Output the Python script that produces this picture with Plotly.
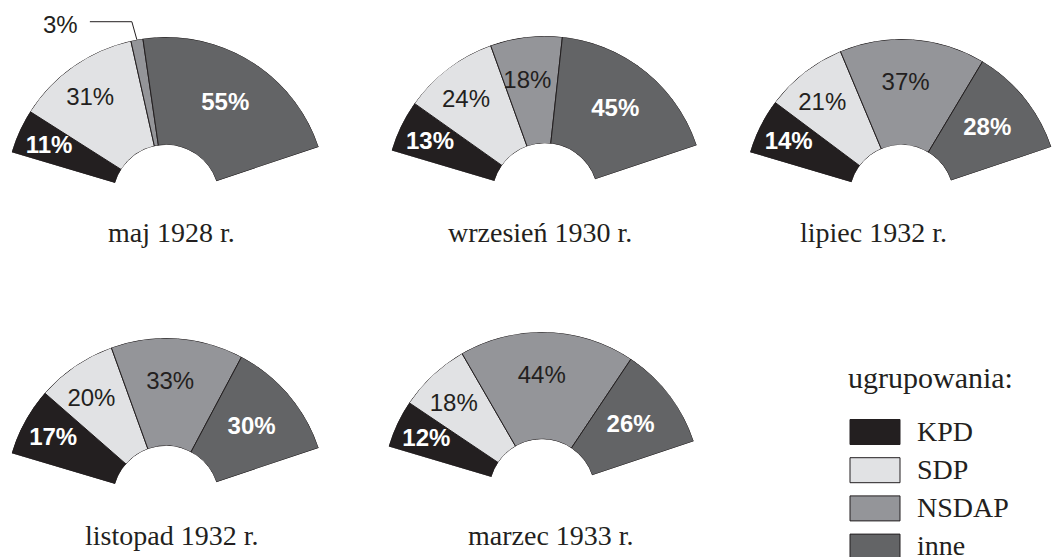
import numpy as np
import plotly.graph_objects as go

# ---------------- data ----------------
parties = ["KPD", "SDP", "NSDAP", "inne"]
elections = ["maj 1928 r.", "wrzesień 1930 r.", "lipiec 1932 r.",
             "listopad 1932 r.", "marzec 1933 r."]
kpd = [11, 13, 14, 17, 12]
sdp = [31, 24, 21, 20, 18]
nsdap = [3, 18, 37, 33, 44]
inne = [55, 45, 28, 30, 26]
legend_title = "ugrupowania:"

# ---------------- styles / layout ----------------
party_colors = ["#231f20", "#e1e2e4", "#949599", "#636466"]
label_colors = ["#ffffff", "#231f20", "#231f20", "#ffffff"]
label_bold = [True, False, False, True]
label_radius = [0.69, 0.66, 0.58, 0.54]   # radial position of % labels (axis units)
label_dtheta = [-1.0, -2.5, -2.0, 0.5]    # angular nudge of % labels (deg)

W, H = 1052, 557
SPAN = 145.0            # angular span of each fan (degrees)
START = 163.5           # left edge angle (deg, counter-clockwise from +x)
HOLE = 0.33
SANS = "Liberation Sans"
SERIF = "Liberation Serif"
INK = "#231f20"

# fan centre (px) and outer radius (px)
fan_geom = [(166, 198, 161), (545, 196, 160), (901.5, 197, 158),
            (166, 499, 161), (542, 492, 160)]
caption_pos = [(171, 233), (540, 233), (873, 233), (171, 535), (551, 535)]

fig = go.Figure()
cos_l = np.cos(np.radians(START))
cos_r = np.cos(np.radians(START - SPAN))

series = [kpd, sdp, nsdap, inne]
for i, name in enumerate(elections):
    vals = np.array([s[i] for s in series], dtype=float)
    widths = vals / vals.sum() * SPAN
    mids = np.cumsum(widths) - widths / 2
    sub = "polar" if i == 0 else f"polar{i+1}"
    cx, cy, R = fan_geom[i]

    fig.add_trace(go.Barpolar(
        r=[1] * len(vals), theta=mids, width=widths, base=0,
        marker=dict(color=party_colors, line=dict(color=INK, width=1)),
        subplot=sub, showlegend=False, hoverinfo="skip",
    ))

    big = vals >= 5
    texts = []
    for v, b in zip(vals, label_bold):
        t = f"{int(v)}%"
        texts.append(f"<b>{t}</b>" if b else t)
    fig.add_trace(go.Scatterpolar(
        r=[rr for rr, k in zip(label_radius, big) if k],
        theta=[m + d for m, d, k in zip(mids, label_dtheta, big) if k],
        text=[t for t, k in zip(texts, big) if k],
        mode="text",
        textfont=dict(family=SANS, size=24,
                      color=[c for c, k in zip(label_colors, big) if k]),
        subplot=sub, showlegend=False, hoverinfo="skip", cliponaxis=False,
    ))
    # small slices: label outside with an elbow leader line
    for j in np.where(~big)[0]:
        a = np.radians(START - mids[j])
        sx, sy = cx + R * np.cos(a), cy - R * np.sin(a)
        ex, ey = sx - 5, cy - R * 1.095
        tx = ex - 42
        fig.add_shape(type="path", xref="paper", yref="paper",
                      path=(f"M {sx / W} {1 - sy / H} L {ex / W} {1 - ey / H} "
                            f"L {tx / W} {1 - ey / H}"),
                      line=dict(color=INK, width=1))
        fig.add_annotation(x=(tx - 10) / W, y=1 - (ey + 3) / H,
                           xref="paper", yref="paper",
                           text=f"{int(vals[j])}%", showarrow=False,
                           xanchor="right", yanchor="middle",
                           font=dict(family=SANS, size=24, color=INK))

    fig.update_layout(**{sub: dict(
        domain=dict(x=[(cx + cos_l * R) / W, min((cx + cos_r * R) / W, 1.0)],
                    y=[1 - cy / H, 1 - (cy - R) / H]),
        sector=[START - SPAN, START],
        hole=HOLE,
        bgcolor="rgba(0,0,0,0)",
        angularaxis=dict(visible=False, rotation=START, direction="clockwise",
                         showgrid=False, showline=False),
        radialaxis=dict(visible=False, range=[0, 1], showgrid=False,
                        showline=False),
    )})

    x, y = caption_pos[i]
    fig.add_annotation(x=x / W, y=1 - y / H, xref="paper", yref="paper",
                       text=name, showarrow=False, xanchor="center",
                       yanchor="middle",
                       font=dict(family=SERIF, size=28, color=INK))

# ---------------- legend (manual) ----------------
fig.add_annotation(x=930 / W, y=1 - 377 / H, xref="paper", yref="paper",
                   text=legend_title, showarrow=False, xanchor="center",
                   yanchor="middle", font=dict(family=SERIF, size=30, color=INK))
box_x0, box_x1 = 850, 900
box_top0, box_step, box_h = 419.5, 38.2, 25
for k, (p, c) in enumerate(zip(parties, party_colors)):
    top = box_top0 + k * box_step
    fig.add_shape(type="rect", xref="paper", yref="paper",
                  x0=box_x0 / W, x1=box_x1 / W,
                  y0=1 - (top + box_h) / H, y1=1 - top / H,
                  fillcolor=c, line=dict(color=INK, width=1))
    fig.add_annotation(x=915 / W, y=1 - (top + box_h / 2 - 1) / H,
                       xref="paper", yref="paper", text=p, showarrow=False,
                       xanchor="left", yanchor="middle",
                       font=dict(family=SERIF, size=28, color=INK))

fig.update_layout(
    width=W, height=H,
    margin=dict(l=0, r=0, t=0, b=0),
    paper_bgcolor="white", plot_bgcolor="white",
    showlegend=False,
)

fig.write_html(
    "out.html",
    config={"displayModeBar": False},
    post_script="document.body.style.margin='0px';document.body.style.overflow='hidden';",
)
